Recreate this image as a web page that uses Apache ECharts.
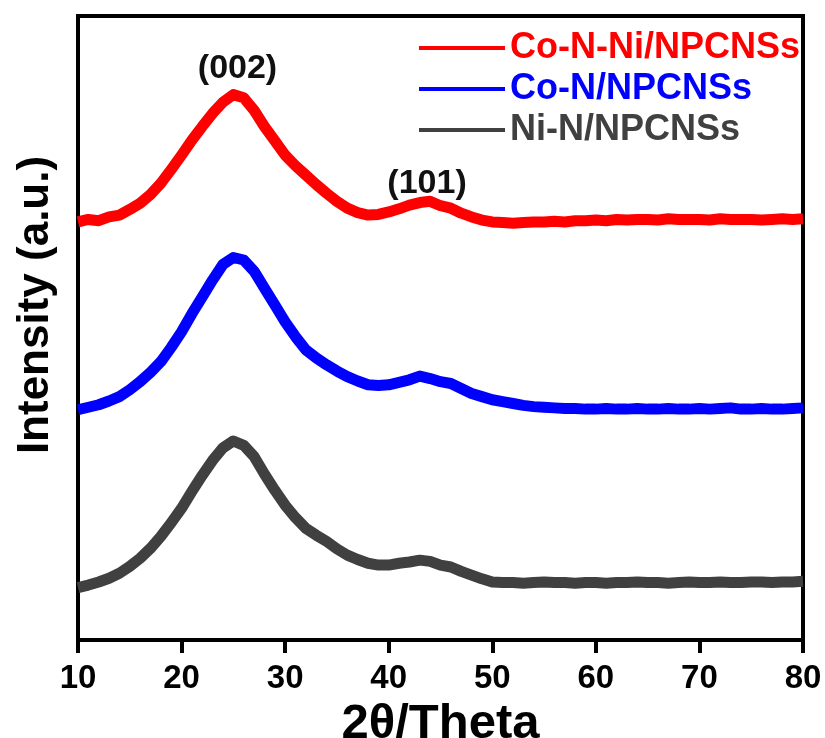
<!DOCTYPE html>
<html>
<head>
<meta charset="utf-8">
<script src="https://cdn.jsdelivr.net/npm/echarts@6/dist/echarts.min.js"></script>
<style>
html,body{margin:0;padding:0;background:#fff;}
#chart{width:825px;height:738px;}
</style>
</head>
<body>
<div id="chart"></div>
<script>
// 2θ positions (degrees)
const twoTheta = [10,11,12,13,14,15,16,17,18,19,20,21,22,23,24,25,26,27,28,29,30,31,32,33,34,35,36,37,38,39,40,41,42,43,44,45,46,47,48,49,50,51,52,53,54,55,56,57,58,59,60,61,62,63,64,65,66,67,68,69,70,71,72,73,74,75,76,77,78,79,80];
// intensities (arbitrary units, stacked offsets as in the figure)
const coNNi = [67.0,67.4,67.2,67.8,68.1,69.0,70.0,71.4,73.2,75.4,77.7,80.1,82.3,84.4,86.2,87.4,86.9,84.9,82.3,80.0,77.7,76.0,74.5,73.0,71.6,70.3,69.2,68.5,68.1,68.2,68.6,69.1,69.7,70.1,70.3,69.6,69.2,68.4,67.8,67.3,67.0,66.9,66.8,66.9,67.0,67.0,67.1,67.0,67.2,67.2,67.3,67.2,67.4,67.3,67.4,67.4,67.3,67.5,67.4,67.4,67.4,67.3,67.5,67.4,67.4,67.4,67.3,67.4,67.5,67.4,67.5];
const coN = [36.9,37.3,37.7,38.3,39.0,40.1,41.4,42.9,44.6,46.9,49.4,52.3,55.0,57.7,60.2,61.3,60.9,59.1,56.4,53.7,51.0,48.6,46.5,45.2,44.1,43.1,42.2,41.5,40.9,40.8,40.9,41.3,41.7,42.3,41.9,41.4,41.1,40.3,39.5,39.0,38.5,38.2,37.9,37.6,37.4,37.3,37.2,37.1,37.1,37.0,37.0,37.1,37.0,37.0,37.1,37.0,37.0,37.1,37.0,37.0,37.1,37.0,37.1,37.2,37.0,37.0,37.1,37.0,37.0,37.1,37.2];
const niN = [8.4,8.8,9.3,9.9,10.7,11.8,13.1,14.7,16.6,18.8,21.1,23.8,26.4,28.8,30.8,31.9,31.2,29.4,26.6,24.0,21.6,19.6,17.9,16.8,15.8,14.6,13.6,12.9,12.3,12.0,12.0,12.3,12.5,12.8,12.6,12.0,11.7,11.0,10.4,9.8,9.3,9.2,9.2,9.1,9.2,9.3,9.2,9.2,9.1,9.2,9.2,9.1,9.2,9.2,9.3,9.2,9.2,9.1,9.2,9.3,9.2,9.2,9.3,9.2,9.2,9.3,9.3,9.2,9.3,9.3,9.4];
const seriesNames = ['Co-N-Ni/NPCNSs','Co-N/NPCNSs','Ni-N/NPCNSs'];
const seriesColors = ['#ff0000','#0000ff','#404040'];
const xTicks = [10,20,30,40,50,60,70,80];
const peakLabels = ['(002)','(101)'];
const peakPos = [[25.4,91.6],[43.7,73.2]];

const FONT = '"Liberation Sans", Arial, sans-serif';
const allSeries = [coNNi, coN, niN];
const chart = echarts.init(document.getElementById('chart'), null, {renderer:'canvas'});
const series = allSeries.map((vals, i) => ({
  name: seriesNames[i],
  type: 'line',
  data: twoTheta.map((x, k) => [x, vals[k]]),
  showSymbol: false,
  symbol: 'none',
  lineStyle: {color: seriesColors[i], width: 11, join: 'round'},
  itemStyle: {color: seriesColors[i]},
  z: 3 - i,
  markPoint: i === 0 ? {
    symbol: 'circle', symbolSize: 0,
    data: peakLabels.map((t, k) => ({coord: peakPos[k], value: t})),
    label: {show: true, position: 'inside', formatter: p => p.value, color: '#111', fontSize: 34, fontWeight: 'bold', fontFamily: FONT}
  } : undefined
}));

chart.setOption({
  animation: false,
  backgroundColor: '#fff',
  grid: {left: 78, right: 22, top: 16, bottom: 98, outerBoundsMode: 'none', containLabel: false,
    show: true, borderColor: '#000', borderWidth: 4, backgroundColor: 'transparent'},
  legend: {
    orient: 'vertical', left: 414, top: 25, icon: 'rect', itemWidth: 86, itemHeight: 4, itemGap: 5,
    data: seriesNames.map((n, i) => ({name: n, textStyle: {color: seriesColors[i], fontSize: 36, fontWeight: 'bold', fontFamily: FONT, lineHeight: 32}})),
    textStyle: {fontSize: 36, fontWeight: 'bold', fontFamily: FONT},
    itemStyle: {borderWidth: 0}
  },
  xAxis: {
    type: 'value', min: 10, max: 80, interval: 10,
    name: '2θ/Theta', nameLocation: 'middle', nameGap: 56,
    nameTextStyle: {fontSize: 49, fontWeight: 'bold', color: '#000', fontFamily: FONT},
    axisLine: {show: true, onZero: false, lineStyle: {color: '#000', width: 4}},
    axisTick: {show: true, inside: false, length: 13, lineStyle: {color: '#000', width: 4}},
    axisLabel: {fontSize: 33, fontWeight: 'bold', color: '#000', fontFamily: FONT, margin: 22,
      formatter: v => xTicks.includes(v) ? String(v) : ''},
    splitLine: {show: false}
  },
  yAxis: {
    type: 'value', min: 0, max: 100,
    name: 'Intensity (a.u.)', nameLocation: 'middle', nameGap: 20,
    nameTextStyle: {fontSize: 44, fontWeight: 'bold', color: '#000', fontFamily: FONT, padding: [0, 0, 0, 46]},
    axisLine: {show: true, lineStyle: {color: '#000', width: 4}},
    axisTick: {show: false}, axisLabel: {show: false}, splitLine: {show: false}
  },
  series: series
});
</script>
</body>
</html>
